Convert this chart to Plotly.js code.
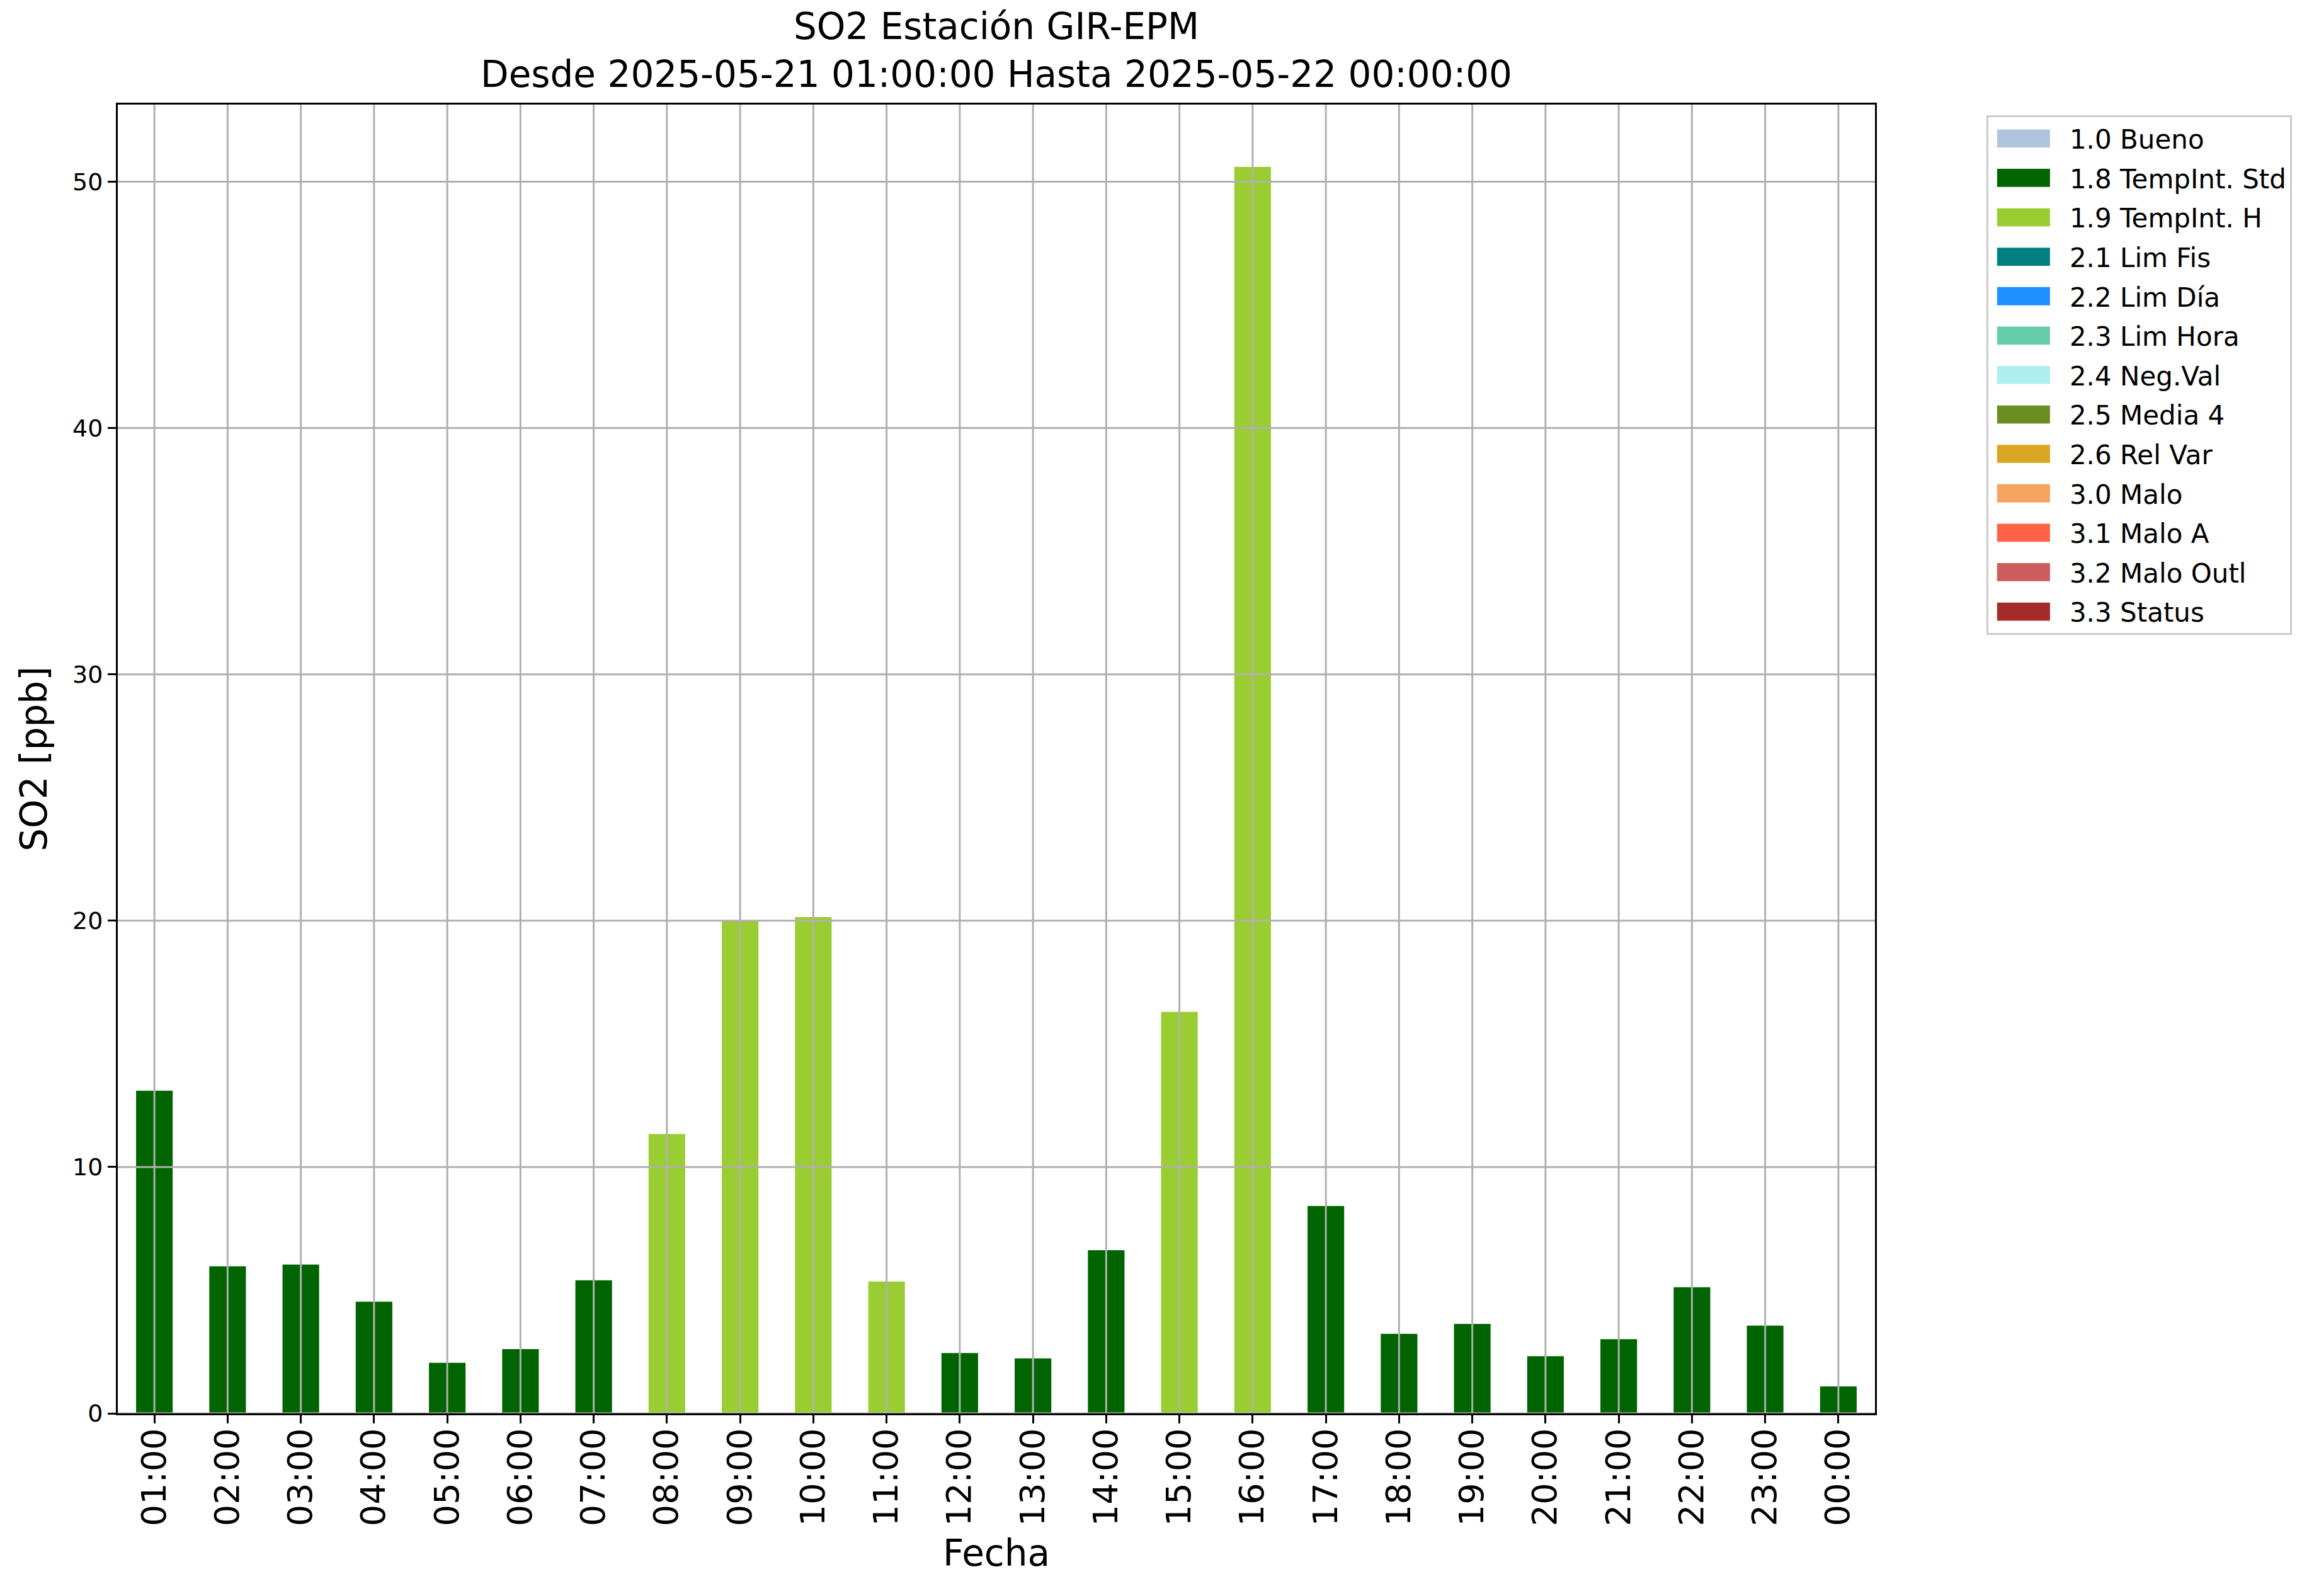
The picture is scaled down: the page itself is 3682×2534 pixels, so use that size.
<!DOCTYPE html>
<html>
<head>
<meta charset="utf-8">
<script src="https://cdn.plot.ly/plotly-3.0.1.min.js"></script>
<style>
html, body { margin: 0; padding: 0; background: #ffffff; }
#chart { width: 3682px; height: 2534px; }
/* widen the legend colour swatches to match the reference's patch style */
#chart .legend .legendpoints path {
  transform: translate(56px, 0px) scale(7, 2.4) !important;
}
</style>
</head>
<body>
<div id="chart"></div>
<script>
// ---- Data ----
const hours = ["01:00","02:00","03:00","04:00","05:00","06:00","07:00","08:00","09:00","10:00","11:00","12:00",
               "13:00","14:00","15:00","16:00","17:00","18:00","19:00","20:00","21:00","22:00","23:00","00:00"];
const so2 = [13.1, 5.97, 6.04, 4.53, 2.05, 2.61, 5.40, 11.34, 20.0, 20.15, 5.35, 2.45,
             2.23, 6.62, 16.3, 50.6, 8.42, 3.23, 3.63, 2.32, 3.01, 5.12, 3.56, 1.09];
const flags = ["1.8","1.8","1.8","1.8","1.8","1.8","1.8","1.9","1.9","1.9","1.9","1.8",
               "1.8","1.8","1.9","1.9","1.8","1.8","1.8","1.8","1.8","1.8","1.8","1.8"];
const flagCodes = ["1.0","1.8","1.9","2.1","2.2","2.3","2.4","2.5","2.6","3.0","3.1","3.2","3.3"];
const flagNames = ["1.0 Bueno","1.8 TempInt. Std","1.9 TempInt. H","2.1 Lim Fis","2.2 Lim Día","2.3 Lim Hora",
                   "2.4 Neg.Val","2.5 Media 4","2.6 Rel Var","3.0 Malo","3.1 Malo A","3.2 Malo Outl","3.3 Status"];
const flagColors = ["#B0C4DE","#006400","#9ACD32","#008080","#1E90FF","#66CDAA",
                    "#AFEEEE","#6B8E23","#DAA520","#F4A460","#FF6347","#CD5C5C","#A52A2A"];
const yTicks = [0, 10, 20, 30, 40, 50];

// ---- Traces: one per flag category ----
const traces = flagCodes.map((code, i) => {
  const xs = [], ys = [];
  hours.forEach((h, j) => { if (flags[j] === code) { xs.push(h); ys.push(so2[j]); } });
  if (xs.length === 0) { xs.push(hours[0]); ys.push(null); }
  return {
    type: "bar",
    x: xs,
    y: ys,
    name: flagNames[i],
    legendgroup: "g" + i,
    marker: { color: flagColors[i], line: { width: 0 } },
    width: 0.5,
    showlegend: true,
    hoverinfo: "skip"
  };
});

// ---- Grid lines drawn above the bars (as in the reference) ----
const gridColor = "#b0b0b0";
const shapes = [];
hours.forEach(h => shapes.push({
  type: "line", xref: "x", yref: "paper", x0: h, x1: h, y0: 0, y1: 1,
  line: { color: gridColor, width: 3 }, layer: "above"
}));
yTicks.forEach(t => shapes.push({
  type: "line", xref: "paper", yref: "y", x0: 0, x1: 1, y0: t, y1: t,
  line: { color: gridColor, width: 3 }, layer: "above"
}));

const font = "DejaVu Sans, Liberation Sans, sans-serif";

const layout = {
  width: 3682,
  height: 2534,
  paper_bgcolor: "#ffffff",
  plot_bgcolor: "#ffffff",
  margin: { l: 187, r: 705, t: 166, b: 290, pad: 0 },
  font: { family: font, color: "#000000" },
  barmode: "overlay",
  title: {
    text: "SO2 Estación GIR-EPM<br>Desde 2025-05-21 01:00:00 Hasta 2025-05-22 00:00:00",
    font: { family: font, size: 58, color: "#000000" },
    x: 0.5, xref: "paper", xanchor: "center",
    y: 0.9754, yref: "container", yanchor: "top"
  },
  xaxis: {
    type: "category",
    categoryorder: "array",
    categoryarray: hours,
    range: [-0.5, hours.length - 0.5],
    tickangle: -90,
    tickfont: { family: font, size: 54, color: "#000000" },
    ticks: "outside", ticklen: 13, tickwidth: 3, tickcolor: "#000000",
    ticklabelstandoff: -14,
    showline: true, linecolor: "#000000", linewidth: 3, mirror: true,
    showgrid: false, zeroline: false,
    automargin: false,
    title: { text: "Fecha", font: { family: font, size: 58, color: "#000000" }, standoff: 24 }
  },
  yaxis: {
    range: [0, 53.13],
    tickvals: yTicks,
    ticktext: yTicks.map(String),
    tickfont: { family: font, size: 38, color: "#000000" },
    ticks: "outside", ticklen: 13, tickwidth: 3, tickcolor: "#000000",
    showline: true, linecolor: "#000000", linewidth: 3, mirror: true,
    showgrid: false, zeroline: false,
    automargin: false,
    title: { text: "SO2 [ppb]", font: { family: font, size: 58, color: "#000000" }, standoff: 22 }
  },
  shapes: shapes,
  showlegend: true,
  legend: {
    x: 1.0634, xanchor: "left", xref: "paper",
    y: 0.9918, yanchor: "top", yref: "paper",
    bgcolor: "#ffffff",
    bordercolor: "#cccccc",
    borderwidth: 3,
    font: { family: font, size: 42, color: "#000000" },
    traceorder: "grouped",
    tracegroupgap: 5,
    itemwidth: 119,
    itemclick: false,
    itemdoubleclick: false
  }
};

Plotly.newPlot("chart", traces, layout, { displayModeBar: false, staticPlot: true });
</script>
</body>
</html>
